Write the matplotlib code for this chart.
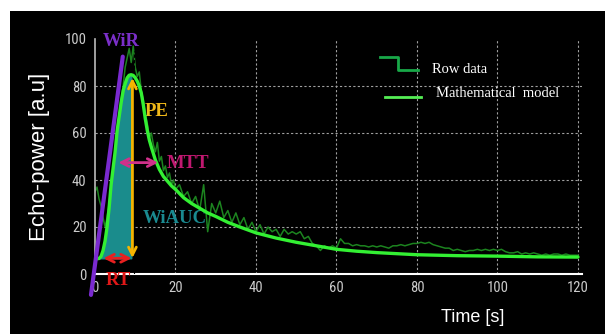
import numpy as np
import matplotlib.pyplot as plt
from matplotlib import font_manager
from matplotlib.patches import Rectangle
from matplotlib.lines import Line2D

# -----------------------------
# Data
# -----------------------------
raw_t = list(np.arange(0, 20.5, 0.5)) + list(range(21, 121))
raw_v = [35, 37, 32, 29, 24, 20, 24, 30, 38, 45,
         52, 60, 66, 74, 80, 88, 92, 96, 90, 97,
         88, 84, 86, 78, 74, 68, 64, 58, 60, 55,
         52, 56, 48, 50, 44, 46, 41, 43, 38, 40, 36,
         38, 33, 35, 30, 33, 27, 38, 18, 30, 26,
         31, 24, 27, 22, 26, 21, 24, 19, 22, 18,
         21, 17, 20, 18, 19, 16, 19, 17, 18, 17,
         18, 15, 16, 13, 12, 10, 12, 11, 12, 11,
         15, 13, 13, 12, 12.5, 12, 12, 11.5, 12, 11.5,
         12, 11.5, 11, 12, 12, 12.5, 12, 12.5, 13, 13,
         13.5, 13, 13.5, 12.5, 12, 11.5, 11, 11, 10, 10.5,
         10, 9.5, 10, 10, 10.5, 10, 10.5, 10, 10.5, 10,
         10.5, 9.5, 9, 9, 9.5, 8.5, 9, 8.5, 9, 8.5,
         8, 8.5, 8, 8.5, 8.5, 8, 8.5, 8, 8, 8]

model_t = [0.5, 1.0, 1.5, 2.0, 2.5, 3.0, 3.5, 4.0, 4.5, 5.0, 5.5, 6.0, 6.5,
           7.0, 7.5, 8.0, 8.5, 9.0, 9.5, 10.0, 10.5, 11.0, 11.5, 12.0, 12.5,
           13.0, 13.5, 14.0, 15, 16, 17, 18, 19, 20, 22, 24, 26, 28, 30, 33,
           36, 40, 45, 50, 55, 60, 65, 70, 80, 90, 100, 110, 120]
model_v = [6.5, 6.6, 7.5, 10, 14, 20, 28, 38, 45, 52, 61, 67, 73,
           78, 81, 83.5, 84.6, 84.8, 84.5, 83.5, 82, 80, 77, 72, 66,
           61, 57, 54, 48.5, 44.5, 41.5, 39.5, 37.5, 36, 32.5, 30, 28, 26, 24.5, 22,
           20, 17.5, 15.3, 13.5, 12, 10.5, 9.7, 9.1, 8.2, 7.8, 7.6, 7.3, 7.2]

wir_t = [-1.0, 6.9]
wir_v = [-8.9, 92.5]

fill_end = 9.3
fill_base = 6.7
pe_t, pe_lo, pe_hi = 9.3, 6.8, 83.4
mtt_lo, mtt_hi, mtt_v = 5.8, 15.7, 47.4
rt_lo, rt_hi, rt_v = 2.1, 9.1, 6.7

xticks = [0, 20, 40, 60, 80, 100, 120]
yticks = [0, 20, 40, 60, 80, 100]


def pick_font(names):
    for n in names:
        try:
            font_manager.findfont(font_manager.FontProperties(family=n),
                                  fallback_to_default=False)
            return n
        except ValueError:
            pass
    return "DejaVu Sans"


narrow = pick_font(["Liberation Sans Narrow", "Roboto Condensed", "Open Sans Condensed",
                    "DejaVu Sans Condensed"])

# -----------------------------
# Figure
# -----------------------------
fig = plt.figure(figsize=(6.05, 3.34), dpi=100)
fig.patch.set_facecolor("white")
fig.patches.append(Rectangle((10 / 605, 0), 1, 1 - 11 / 334, transform=fig.transFigure,
                             facecolor="black", edgecolor="none", zorder=-10))

ax = fig.add_axes([95 / 605, 1 - 274 / 334, 487 / 605, 235 / 334])
ax.set_facecolor("black")
ax.set_xlim(0, 121)
ax.set_ylim(0, 100)

for g in xticks[1:]:
    ax.axvline(g, color="#a0a0a0", lw=0.8, ls=(0, (2, 2)), zorder=1)
for g in yticks[1:-1]:
    ax.axhline(g, color="#a0a0a0", lw=0.8, ls=(0, (2, 2)), zorder=1)

# raw data + model
ax.plot(raw_t, raw_v, color="#1c841f", lw=1.1, zorder=2)
mt = np.array(model_t)
mv = np.array(model_v)
ax.fill_between(mt, mv, fill_base, where=mt <= fill_end, color="#1a8c8c", zorder=3)
ax.axvline(9.6, ymax=0.95, color="black", lw=0.8, ls=(0, (3, 2)), zorder=3)
ax.plot(model_t, model_v, color="#33f033", lw=2.4, zorder=4, solid_capstyle="round")

# WiR slope
ax.plot(wir_t, wir_v, color="#7a2ad0", lw=3, zorder=5, clip_on=False, solid_capstyle="round")

# arrows
def darrow(p0, p1, col):
    ax.annotate("", xy=p1, xytext=p0, zorder=6,
                arrowprops=dict(arrowstyle="<->", color=col, lw=2, mutation_scale=14,
                                shrinkA=0, shrinkB=0))

darrow((pe_t, pe_lo), (pe_t, pe_hi), "#f5b400")
darrow((mtt_lo, mtt_v), (mtt_hi, mtt_v), "#d0308a")
darrow((rt_lo, rt_v), (rt_hi, rt_v), "#e82020")

lab = dict(family="Liberation Serif", fontweight="bold", fontsize=13.5, ha="center", va="center")
ax.text(6.6, 99, "WiR", color="#7b2fc9", clip_on=False, **lab)
ax.text(15.3, 69, "PE", color="#f0b818", **lab)
ax.text(23, 47.2, "MTT", color="#c01870", **lab)
ax.text(19.9, 23.7, "WiAUC", color="#1a8a90", **lab)
ax.text(5.8, -2.6, "RT", color="#e01818", clip_on=False, **lab)

# legend drawn by hand
ax.add_line(Line2D([0.585, 0.622, 0.622, 0.663], [0.923, 0.923, 0.868, 0.868],
                   transform=ax.transAxes, color="#18a848", lw=2))
ax.add_line(Line2D([0.595, 0.670], [0.753, 0.753], transform=ax.transAxes,
                   color="#55ee55", lw=2))
ax.text(0.692, 0.872, "Row data", transform=ax.transAxes, color="white",
        family="Liberation Serif", fontsize=10.5, va="center")
ax.text(0.700, 0.770, "Mathematical  model", transform=ax.transAxes, color="white",
        family="Liberation Serif", fontsize=10.5, va="center")

# axes styling
for s in ["top", "right"]:
    ax.spines[s].set_visible(False)
ax.spines["left"].set_color("#bbbbbb")
ax.spines["left"].set_linewidth(1.2)
ax.spines["bottom"].set_color("white")
ax.spines["bottom"].set_linewidth(1.5)
ax.set_xticks(xticks)
ax.set_yticks(yticks)
ax.tick_params(length=0, colors="#cccccc", labelsize=10.5)
ax.tick_params(axis="y", pad=6)
ax.tick_params(axis="x", pad=5)
for t in ax.get_xticklabels() + ax.get_yticklabels():
    t.set_family([narrow, "DejaVu Sans"])

ax.set_ylabel("Echo-power [a.u]", color="white", fontsize=16, family="Liberation Sans")
ax.yaxis.set_label_coords(-0.092, 0.5)
ax.text(0.776, -0.187, "Time [s]", transform=ax.transAxes, color="white",
        fontsize=13, family="Liberation Sans", ha="center", va="center")

fig.savefig("out.png", dpi=100, facecolor=fig.get_facecolor())
